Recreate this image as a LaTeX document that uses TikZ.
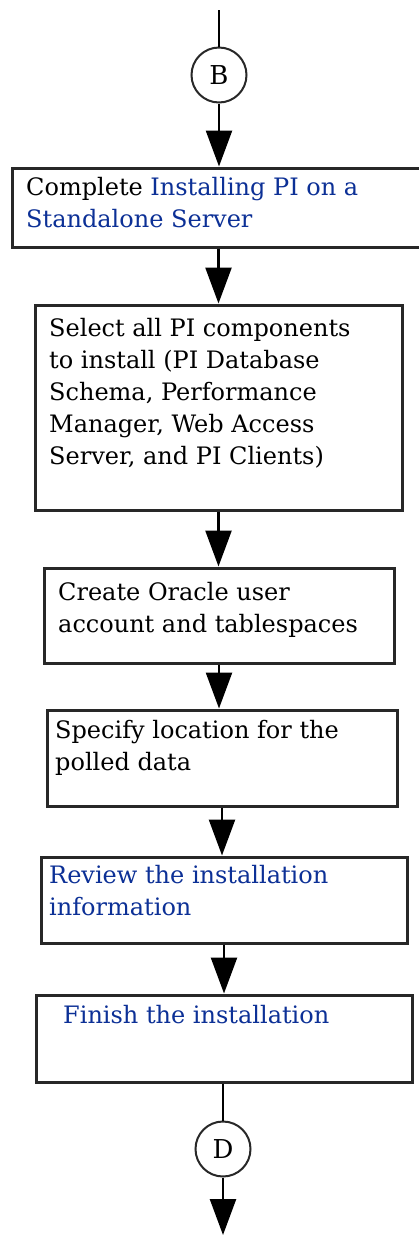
\documentclass[tikz,border=0pt]{standalone}
\usepackage{fontspec}
\setmainfont{DejaVu Serif}
\usepackage{xcolor}
\usepackage{tikz}
\usetikzlibrary{positioning, arrows.meta}

\definecolor{linkblue}{RGB}{12,48,150}
\definecolor{boxgray}{RGB}{40,40,40}

\begin{document}
\begin{tikzpicture}[x=1pt,y=-1pt,
    stepbox/.style={draw=boxgray, line width=3pt, fill=white, inner sep=0pt},
    steptext/.style={anchor=north west, inner sep=0pt, align=left, font=\fontsize{24}{32}\selectfont},
    connector/.style={draw=boxgray, circle, line width=2pt, minimum size=55pt, inner sep=0pt, font=\fontsize{26}{30}\selectfont},
    flow/.style={line width=2.5pt, -{Triangle[width=26pt,length=36pt]}},
    plain/.style={line width=2.5pt}]
    \useasboundingbox (0,0) rectangle (418,1235);
    % off-page connectors
    \coordinate (top) at (219,10);
    \node[connector] (B) at (219,75) {B};
    \node[connector] (D) at (223,1149) {D};
    \coordinate (bottom) at (223,1235);
    % step boxes
    \node[stepbox, minimum width=413pt, minimum height=79pt] (s1) at (218.5,207.5) {};
    \node[stepbox, minimum width=367pt, minimum height=205pt] (s2) at (218.5,407.5) {};
    \node[stepbox, minimum width=350pt, minimum height=95pt] (s3) at (219,615.5) {};
    \node[stepbox, minimum width=350pt, minimum height=96pt] (s4) at (222,758) {};
    \node[stepbox, minimum width=366pt, minimum height=86pt] (s5) at (224,900) {};
    \node[stepbox, minimum width=376pt, minimum height=87pt] (s6) at (224,1038.5) {};
    % texts
    \node[steptext] (t1) at (26,177) {Complete \textcolor{linkblue}{Installing PI on a}\\\textcolor{linkblue}{Standalone Server}};
    \node[steptext] (t2) at (49,318) {Select all PI components\\to install (PI Database\\Schema, Performance\\Manager, Web Access\\Server, and PI Clients)};
    \node[steptext] (t3) at (58,582) {Create Oracle user\\account and tablespaces};
    \node[steptext] (t4) at (55,720) {Specify location for the\\polled data};
    \node[steptext, text=linkblue] (t5) at (49,865) {Review the installation\\information};
    \node[steptext, text=linkblue] (t6) at (63,1005) {Finish the installation};
    % flow
    \draw[plain] (top) -- (B);
    \draw[flow] (B) -- (B |- s1.north);
    \draw[flow] (s1.south -| s2.north) -- (s2.north);
    \draw[flow] (s2.south) -- (s2.south |- s3.north);
    \draw[flow] (s3.south) -- (s3.south |- s4.north);
    \draw[flow] (s4.south) -- (s4.south |- s5.north);
    \draw[flow] (s5.south) -- (s6.north);
    \draw[plain] (s6.south -| D) -- (D);
    \draw[flow] (D) -- (bottom);
\end{tikzpicture}
\end{document}
